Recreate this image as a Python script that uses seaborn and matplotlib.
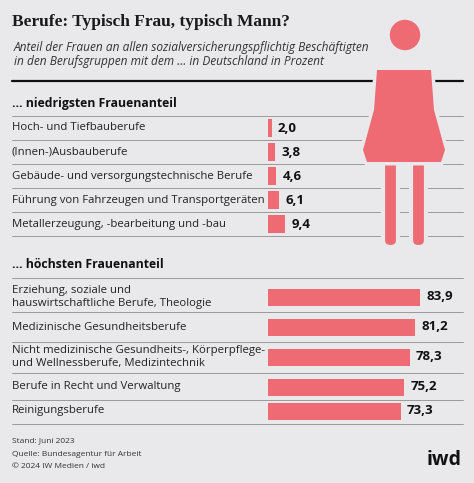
import matplotlib
matplotlib.use("Agg")
import matplotlib.pyplot as plt
import seaborn as sns
from matplotlib.patches import Circle, Polygon, FancyBboxPatch

sns.set_theme(style="white")
plt.rcParams['font.family'] = ['Open Sans', 'DejaVu Sans']

low_labels = ["Hoch- und Tiefbauberufe", "(Innen-)Ausbauberufe",
              "Gebäude- und versorgungstechnische Berufe",
              "Führung von Fahrzeugen und Transportgeräten",
              "Metallerzeugung, -bearbeitung und -bau"]
low_values = [2.0, 3.8, 4.6, 6.1, 9.4]
high_labels = ["Erziehung, soziale und\nhauswirtschaftliche Berufe, Theologie",
               "Medizinische Gesundheitsberufe",
               "Nicht medizinische Gesundheits-, Körperpflege-\nund Wellnessberufe, Medizintechnik",
               "Berufe in Recht und Verwaltung", "Reinigungsberufe"]
high_values = [83.9, 81.2, 78.3, 75.2, 73.3]

# layout (pixel rows)
low_y = [128, 152, 176, 200, 224]
low_sep = [116, 140, 164, 188, 212, 236]
high_y = [297, 327, 357, 387, 411]
high_sep = [278, 312, 342, 373, 400, 424]

BG = "#e9e9eb"
RED = "#ee6b74"
W, H = 474, 483
fig = plt.figure(figsize=(W/100, H/100), dpi=100, facecolor=BG)
ov = fig.add_axes([0, 0, 1, 1])
ov.set_xlim(0, W); ov.set_ylim(H, 0); ov.axis("off")

ov.text(12, 22, "Berufe: Typisch Frau, typisch Mann?", fontsize=12.5, fontweight="bold",
        family=["Liberation Serif", "DejaVu Serif"], va="center", color="#1a1a1a")
ov.text(14, 47, "Anteil der Frauen an allen sozialversicherungspflichtig Beschäftigten",
        fontsize=8.6, style="italic", va="center", color="#333")
ov.text(14, 62, "in den Berufsgruppen mit dem … in Deutschland in Prozent",
        fontsize=8.6, style="italic", va="center", color="#333")
ov.plot([12, 463], [81, 81], color="#111", lw=1.6)
ov.text(12, 103, "… niedrigsten Frauenanteil", fontsize=8.8, fontweight="bold", va="center", color="#111")
ov.text(12, 265, "… höchsten Frauenanteil", fontsize=8.8, fontweight="bold", va="center", color="#111")
for s in low_sep + high_sep:
    ov.plot([12, 463], [s, s], color="#9a9a9a", lw=0.7)
for lab, y in zip(low_labels + high_labels, low_y + high_y):
    ov.text(12, y, lab, fontsize=8.2, va="center", color="#222", linespacing=1.15)

# woman icon
shape = [(377, 70), (431, 70), (434, 110), (445, 150), (441, 162), (367, 162), (363, 150), (374, 110)]
ov.add_patch(Circle((405, 35), 18, color=RED, ec=BG, lw=4, zorder=5))
ov.add_patch(Polygon(shape, closed=True, color=RED, ec=BG, lw=5, zorder=5, joinstyle="round"))
for lx in (383, 411):
    ov.add_patch(FancyBboxPatch((lx, 150), 15, 97, boxstyle="round,pad=0,rounding_size=7",
                                color=RED, ec=BG, lw=3, zorder=4))
ov.add_patch(Polygon(shape, closed=True, color=RED, lw=0, zorder=6))

ov.text(12, 441, "Stand: Juni 2023", fontsize=6, va="center", color="#333")
ov.text(12, 455, "Quelle: Bundesagentur für Arbeit", fontsize=6, va="center", color="#333")
ov.text(12, 466, "© 2024 IW Medien / iwd", fontsize=6, va="center", color="#333")
ov.text(462, 460, "iwd", fontsize=14, fontweight="bold", ha="right", va="center", color="#111")

# bars
x0 = 268
scale = 1.81
ax = fig.add_axes([x0/W, 0, (W-x0)/W, 1])
ax.patch.set_alpha(0)
ax.set_xlim(0, (W-x0)/scale); ax.set_ylim(H, 0); ax.axis("off")
ax.barh(low_y, low_values, height=18, color=RED, lw=0, zorder=3)
ax.barh(high_y, high_values, height=17, color=RED, lw=0, zorder=3)
for v, y in zip(low_values + high_values, low_y + high_y):
    ax.text(v + 3.5, y, f"{v:.1f}".replace(".", ","), fontsize=9.5, fontweight="bold",
            va="center", ha="left", color="#111")

fig.savefig("out.png", dpi=100, facecolor=BG)
